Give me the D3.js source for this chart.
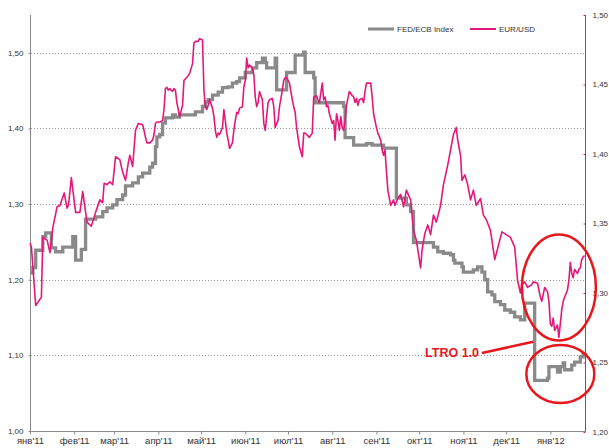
<!DOCTYPE html>
<html>
<head>
<meta charset="utf-8">
<script src="https://cdn.jsdelivr.net/npm/d3@7"></script>
<style>
body { margin: 0; background: #fff; }
text { font-family: "Liberation Sans", Arial, sans-serif; }
</style>
</head>
<body>
<script>
// month labels on the x axis (Jan 2011 .. Jan 2012)
const monthLabels = ["янв'11", "фев'11", "мар'11", "апр'11", "май'11", "июн'11", "июл'11",
  "авг'11", "сен'11", "окт'11", "ноя'11", "дек'11", "янв'12"];
const leftTicks = [1.00, 1.10, 1.20, 1.30, 1.40, 1.50];
const rightTicks = [1.20, 1.25, 1.30, 1.35, 1.40, 1.45, 1.50];

// [days since 1 Jan 2011, value]
const fedEcb = [[0,1.209],[2,1.216],[4,1.239],[9,1.257],[11,1.262],[15,1.242],[18,1.237],[23,1.243],[30,1.257],[32,1.226],
  [36,1.240],[39,1.280],[46,1.283],[51,1.290],[54,1.295],[58,1.299],[61,1.306],[65,1.312],[67,1.324],[72,1.328],
  [76,1.336],[79,1.341],[84,1.349],[86,1.354],[88,1.376],[89,1.389],[91,1.392],[93,1.407],[95,1.414],[100,1.418],
  [102,1.415],[105,1.418],[116,1.422],[121,1.429],[123,1.435],[125,1.438],[128,1.444],[132,1.448],[135,1.454],[139,1.455],
  [142,1.460],[145,1.462],[147,1.467],[151,1.474],[156,1.480],[159,1.487],[163,1.493],[165,1.487],[166,1.480],[172,1.493],
  [173,1.451],[180,1.474],[186,1.497],[192,1.501],[193,1.474],[199,1.467],[200,1.434],[220,1.429],[221,1.388],[227,1.378],
  [236,1.380],[240,1.378],[248,1.374],[257,1.308],[264,1.299],[267,1.290],[269,1.249],[283,1.243],[286,1.237],[290,1.235],
  [295,1.233],[297,1.226],[298,1.222],[303,1.217],[304,1.210],[311,1.213],[314,1.217],[317,1.210],[319,1.200],[321,1.184],
  [324,1.180],[326,1.171],[330,1.167],[333,1.160],[337,1.157],[340,1.151],[344,1.147],[347,1.169],[354,1.067],[363,1.070],
  [364,1.085],[370,1.078],[372,1.085],[374,1.090],[375,1.081],[380,1.087],[382,1.091],[386,1.098],[388,1.101],[390,1.099]];

const eurUsd = [[0,1.336],[1,1.333],[4,1.291],[8,1.297],[9,1.340],[12,1.338],[14,1.329],[16,1.347],[19,1.362],[21,1.363],
  [24,1.372],[26,1.361],[27,1.363],[29,1.383],[32,1.358],[35,1.358],[37,1.373],[40,1.351],[43,1.348],[46,1.358],
  [49,1.367],[51,1.365],[52,1.379],[54,1.378],[56,1.380],[58,1.378],[60,1.398],[63,1.396],[65,1.387],[67,1.381],
  [69,1.394],[70,1.399],[72,1.391],[74,1.417],[76,1.422],[79,1.421],[80,1.417],[81,1.412],[82,1.408],[84,1.408],
  [86,1.410],[87,1.414],[88,1.422],[89,1.423],[91,1.423],[93,1.424],[94,1.432],[95,1.447],[96,1.448],[97,1.446],
  [98,1.447],[100,1.445],[101,1.447],[102,1.446],[103,1.437],[104,1.432],[105,1.427],[107,1.435],[108,1.453],[110,1.455],
  [112,1.458],[114,1.465],[115,1.480],[116,1.481],[118,1.481],[119,1.483],[121,1.482],[122,1.446],[123,1.434],[124,1.432],
  [125,1.435],[126,1.439],[128,1.433],[129,1.427],[130,1.417],[131,1.412],[132,1.415],[133,1.414],[135,1.419],[136,1.432],
  [137,1.424],[138,1.415],[139,1.410],[140,1.404],[142,1.408],[143,1.417],[144,1.424],[145,1.430],[146,1.429],[147,1.433],
  [149,1.434],[150,1.448],[151,1.453],[152,1.469],[153,1.462],[154,1.464],[156,1.462],[157,1.457],[158,1.441],[159,1.434],
  [160,1.437],[161,1.445],[163,1.439],[164,1.422],[165,1.417],[166,1.427],[167,1.437],[168,1.439],[170,1.440],[171,1.434],
  [172,1.419],[173,1.422],[174,1.424],[175,1.434],[177,1.446],[178,1.453],[179,1.455],[180,1.455],[181,1.453],[182,1.451],
  [184,1.439],[185,1.434],[186,1.430],[187,1.419],[188,1.412],[189,1.405],[191,1.398],[192,1.415],[193,1.415],[194,1.414],
  [196,1.412],[198,1.415],[199,1.441],[201,1.442],[202,1.439],[203,1.437],[205,1.451],[206,1.439],[207,1.441],[208,1.434],
  [209,1.435],[210,1.429],[212,1.422],[213,1.424],[214,1.410],[215,1.429],[216,1.424],[217,1.417],[218,1.427],[219,1.419],
  [220,1.417],[221,1.424],[222,1.435],[223,1.440],[224,1.445],[226,1.442],[227,1.441],[228,1.437],[229,1.440],[230,1.435],
  [231,1.439],[233,1.440],[234,1.437],[235,1.445],[236,1.451],[237,1.451],[239,1.451],[240,1.441],[241,1.429],[243,1.419],
  [244,1.415],[246,1.410],[247,1.403],[248,1.399],[249,1.403],[250,1.388],[251,1.374],[253,1.363],[255,1.367],[256,1.363],
  [258,1.368],[260,1.371],[262,1.362],[264,1.374],[267,1.367],[269,1.345],[271,1.338],[274,1.318],[275,1.331],[277,1.343],
  [279,1.349],[281,1.342],[283,1.356],[285,1.351],[288,1.363],[290,1.378],[293,1.392],[295,1.403],[297,1.414],[299,1.419],
  [300,1.410],[302,1.399],[303,1.381],[305,1.385],[307,1.378],[309,1.367],[311,1.374],[313,1.363],[316,1.368],[318,1.356],
  [320,1.353],[323,1.345],[326,1.324],[331,1.344],[334,1.342],[337,1.340],[340,1.333],[342,1.309],[344,1.300],[345,1.306],
  [347,1.308],[349,1.304],[352,1.306],[353,1.308],[356,1.307],[357,1.302],[358,1.297],[359,1.294],[360,1.299],[361,1.304],
  [363,1.301],[364,1.294],[365,1.278],[366,1.276],[367,1.282],[368,1.273],[370,1.277],[371,1.268],[372,1.278],[373,1.288],
  [374,1.294],[375,1.297],[377,1.302],[378,1.309],[379,1.322],[380,1.314],[381,1.311],[382,1.317],[384,1.314],[385,1.317],
  [386,1.318],[387,1.324],[388,1.326],[389,1.327]];

const start = new Date(2011, 0, 1);
const day = d => d3.timeDay.offset(start, d);
const comma = d3.format(".2f");
const fmt = v => comma(v).replace(".", ",");

const width = 609, height = 448;
const svg = d3.select("body").append("svg").attr("width", width).attr("height", height);

const x = d3.scaleTime().domain([start, new Date(2012, 0, 26)]).range([30, 586]);
const yL = d3.scaleLinear().domain([1.00, 1.55]).range([431, 15]);
const yR = d3.scaleLinear().domain([1.20, 1.50]).range([432, 15]);

const gray = "#8a8a8a", pink = "#e5177b", red = "#e8161d";

// grid
svg.append("g").selectAll("line").data(leftTicks.slice(1)).enter().append("line")
  .attr("x1", 31).attr("x2", 585).attr("y1", d => Math.round(yL(d)) + 0.5).attr("y2", d => Math.round(yL(d)) + 0.5)
  .attr("stroke", "#9a9a9a").attr("stroke-dasharray", "1,2");

// left axis
const gl = svg.append("g").attr("transform", "translate(30.5,0)")
  .call(d3.axisLeft(yL).tickValues(leftTicks).tickFormat(fmt).tickSize(2).tickPadding(5));
gl.select(".domain").attr("stroke", gray).attr("d", "M0," + yL.range()[1] + "V" + yL.range()[0]);

// right axis
const gr = svg.append("g").attr("transform", "translate(585.5,0)")
  .call(d3.axisRight(yR).tickValues(rightTicks).tickFormat(fmt).tickSize(-2).tickPadding(7));
gr.select(".domain").attr("stroke", pink).attr("d", "M0," + yR.range()[1] + "V" + yR.range()[0]);
gr.selectAll(".tick line").attr("stroke", pink);

// x axis
const months = d3.timeMonth.range(start, new Date(2012, 0, 2));
const gx = svg.append("g").attr("transform", "translate(0,431.5)")
  .call(d3.axisBottom(x).tickValues(months).tickFormat((d, i) => monthLabels[i]).tickSize(3).tickPadding(3));
gx.select(".domain").attr("stroke", gray).attr("d", "M30,0H586");
gx.selectAll(".tick line").attr("stroke", gray);

[gl, gr, gx].forEach(g => g.selectAll("text").attr("fill", "#333").style("font-family", '"Liberation Sans", Arial, sans-serif'));
gl.selectAll("text").attr("font-size", 8).attr("dy", "0.3em");
gr.selectAll("text").attr("font-size", 8).attr("dy", "0.3em");
gx.selectAll("text").attr("font-size", 9.5);
gl.selectAll(".tick line").attr("stroke", gray);

// series
const fedLine = d3.line().x(d => x(day(d[0]))).y(d => yL(d[1])).curve(d3.curveStepAfter);
svg.append("path").datum(fedEcb).attr("d", fedLine)
  .attr("fill", "none").attr("stroke", gray).attr("stroke-width", 3.3);

const eurLine = d3.line().x(d => x(day(d[0]))).y(d => yR(d[1]));
svg.append("path").datum(eurUsd).attr("d", eurLine)
  .attr("fill", "none").attr("stroke", pink).attr("stroke-width", 1.6).attr("stroke-linejoin", "round");

// legend
const legend = [["FED/ECB Index", gray, 368, 3], ["EUR/USD", pink, 470, 2]];
legend.forEach(([name, col, lx, w]) => {
  svg.append("line").attr("x1", lx).attr("x2", lx + 26).attr("y1", 29).attr("y2", 29)
    .attr("stroke", col).attr("stroke-width", w);
  svg.append("text").attr("x", lx + 29).attr("y", 32).attr("font-size", 8).attr("fill", "#333").text(name);
});

// annotations
svg.append("ellipse").attr("cx", x(day(371))).attr("cy", yR(1.304)).attr("rx", 37).attr("ry", 53)
  .attr("fill", "none").attr("stroke", red).attr("stroke-width", 2.5);
svg.append("ellipse").attr("cx", x(day(372))).attr("cy", yL(1.0754)).attr("rx", 34).attr("ry", 29)
  .attr("fill", "none").attr("stroke", red).attr("stroke-width", 2.5);
svg.append("line").attr("x1", x(day(317))).attr("y1", yL(1.103)).attr("x2", x(day(353))).attr("y2", yL(1.118))
  .attr("stroke", red).attr("stroke-width", 2.5);
svg.append("text").attr("x", x(day(315))).attr("y", yL(1.098)).attr("text-anchor", "end")
  .attr("font-size", 12.5).attr("font-weight", "bold").attr("fill", red).text("LTRO 1.0");
</script>
</body>
</html>
